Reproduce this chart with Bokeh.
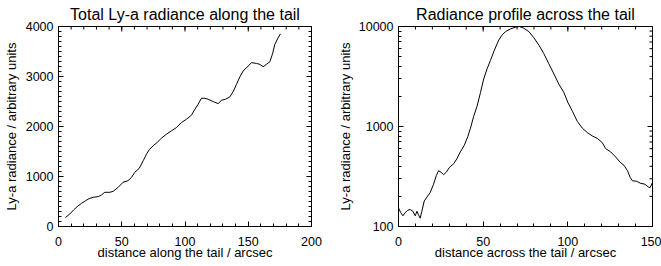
import math
from bokeh.plotting import figure
from bokeh.layouts import row
from bokeh.models import Range1d, FixedTicker, PrintfTickFormatter
from bokeh.embed import file_html
from bokeh.resources import INLINE

# ---- data: total Ly-a radiance along the tail ----
along_x = [5.5, 9, 12, 14.8, 18.2, 21.6, 24.2, 27.4, 31.4, 34, 36.6, 40.6, 43.2, 47.2,
           51, 55, 57.7, 60.3, 63.8, 67, 69.6, 71.7, 74.8, 78, 81.4, 85.4, 89.3, 93.3,
           97.2, 101.2, 105.1, 107.8, 110.4, 113, 115.7, 118.3, 122.3, 126.2, 128.9,
           132, 135.4, 138.1, 140.7, 143.3, 146, 149.9, 152.6, 156.5, 159.2, 161.8,
           164.4, 167.1, 169.2, 171, 173.6, 175.5]
along_y = [180, 252, 332, 399, 465, 518, 558, 585, 598, 631, 684, 684, 704, 784,
           884, 917, 983, 1083, 1163, 1316, 1449, 1535, 1615, 1681, 1767, 1847, 1914, 1980,
           2080, 2146, 2226, 2345, 2445, 2565, 2565, 2545, 2498, 2458, 2525,
           2545, 2591, 2698, 2844, 2990, 3110, 3209, 3276, 3262, 3242, 3196,
           3242, 3296, 3455, 3641, 3774, 3854]

# ---- data: radiance profile across the tail ----
across_x = [0, 1.4, 2.6, 3.9, 5.3, 6.9, 8.5, 9.9, 10.9, 11.8, 12.8, 13.8, 15.2, 16.8,
            18.7, 20.7, 22.3, 23.7, 25.1, 26.6, 28.2, 30.2, 32.6, 34.5, 36.5, 38.9,
            40.9, 42.5, 44.4, 46.4, 48.4, 50.3, 52.3, 54.3, 56.6, 59.2, 61.2, 63.2,
            66.1, 69.1, 71.4, 74, 77, 79.9, 82.9, 85.8, 88.8, 91.8, 94.7, 97.7, 100.1,
            102.7, 105.6, 108.6, 111.5, 114.5, 117.4, 120.4, 122.3, 125.3, 128.3,
            130.8, 133.2, 135.2, 136.8, 138.1, 140.7, 143.1, 145.5, 147.4, 148.6, 150]
across_y = [153, 137, 128, 137, 145, 148, 142, 128, 142, 131, 121, 142, 180, 197,
            218, 265, 322, 362, 349, 330, 349, 392, 424, 476, 557, 651,
            791, 961, 1264, 1597, 2182, 2984, 3767, 4580, 5796, 7315, 8222, 8892,
            9461, 9842, 10000, 9614, 8892, 7730, 6516, 5361, 4238, 3350, 2653, 2182, 1727,
            1421, 1124, 961, 869, 804, 761, 687, 602, 557, 495,
            441, 408, 362, 310, 287, 283, 270, 265, 249, 245, 276]

left_xticks = [0, 50, 100, 150, 200]
left_yticks = [0, 1000, 2000, 3000, 4000]
right_xticks = [0, 50, 100, 150]
right_yticks = [100, 1000, 10000]

left_title = "Total Ly-a radiance along the tail"
right_title = "Radiance profile across the tail"
left_xlabel = "distance along the tail / arcsec"
right_xlabel = "distance across the tail / arcsec"
ylabel = "Ly-a radiance / arbitrary units"

FONT = "Liberation Sans"


def style_axis(ax, ticker, label, standoff, label_standoff, fmt=None):
    ax.ticker = ticker
    ax.major_tick_in = 5
    ax.major_tick_out = 0
    ax.minor_tick_in = 3
    ax.minor_tick_out = 0
    ax.axis_line_color = "black"
    ax.major_tick_line_color = "black"
    ax.minor_tick_line_color = "black"
    if fmt is not None:
        ax.formatter = fmt
    ax.major_label_text_font = FONT
    ax.major_label_text_font_size = "12.5px"
    ax.major_label_text_color = "black"
    ax.major_label_standoff = standoff
    ax.axis_label = label
    ax.axis_label_text_font = FONT
    ax.axis_label_text_font_size = "13px"
    ax.axis_label_text_font_style = "normal"
    ax.axis_label_text_color = "black"
    ax.axis_label_standoff = label_standoff


def make_fig(title, width, x_range, y_range, log, border_left, border_right):
    p = figure(width=width, height=266, title=title,
               x_range=x_range, y_range=y_range,
               y_axis_type="log" if log else "linear",
               output_backend="svg", toolbar_location=None,
               min_border_left=border_left, min_border_right=border_right,
               min_border_top=25, min_border_bottom=40)
    p.title.text_font = FONT
    p.title.text_font_size = "16px"
    p.title.text_font_style = "normal"
    p.title.text_color = "black"
    p.title.align = "center"
    p.title.standoff = 7
    p.title.offset = 0
    p.xgrid.visible = False
    p.ygrid.visible = False
    p.outline_line_color = "black"
    p.background_fill_color = "white"
    p.border_fill_color = "white"
    return p


def mirror_ticks(p, xmaj, xmin_, ymaj, ymin_, xr, yr):
    # inward ticks on the top and right edges (clipped to the frame)
    p.scatter(xmaj, [yr[1]] * len(xmaj), marker="dash", angle=math.pi / 2, size=10,
              line_color="black", line_width=1)
    p.scatter(xmin_, [yr[1]] * len(xmin_), marker="dash", angle=math.pi / 2, size=6,
              line_color="black", line_width=1)
    p.scatter([xr[1]] * len(ymaj), ymaj, marker="dash", size=10,
              line_color="black", line_width=1)
    p.scatter([xr[1]] * len(ymin_), ymin_, marker="dash", size=6,
              line_color="black", line_width=1)


# ---- left panel ----
xr1, yr1 = (0, 200), (0, 4000)
p1 = make_fig(left_title, 330, Range1d(*xr1), Range1d(*yr1), False, 58, 19)
x1_minor = list(range(0, 201, 10))
y1_minor = list(range(0, 4001, 100))
style_axis(p1.xaxis[0], FixedTicker(ticks=left_xticks, minor_ticks=x1_minor), left_xlabel, 10, -4)
style_axis(p1.yaxis[0], FixedTicker(ticks=left_yticks, minor_ticks=y1_minor), ylabel, 5, 4)
mirror_ticks(p1, left_xticks, x1_minor, left_yticks, y1_minor, xr1, yr1)
p1.line(along_x, along_y, line_color="black", line_width=1)

# ---- right panel ----
xr2, yr2 = (0, 150), (100, 10000)
p2 = make_fig(right_title, 331, Range1d(*xr2), Range1d(*yr2), True, 68, 9)
x2_minor = list(range(0, 151, 10))
y2_minor = [m * d for d in (100, 1000) for m in range(2, 10)]
style_axis(p2.xaxis[0], FixedTicker(ticks=right_xticks, minor_ticks=x2_minor), right_xlabel, 10, -4)
style_axis(p2.yaxis[0], FixedTicker(ticks=right_yticks, minor_ticks=y2_minor), ylabel, 5, 3,
           fmt=PrintfTickFormatter(format="%d"))
mirror_ticks(p2, right_xticks, x2_minor, right_yticks, y2_minor, xr2, yr2)
p2.line(across_x, across_y, line_color="black", line_width=1)

layout = row(p1, p2)
open("out.html", "w").write(file_html(layout, INLINE))
